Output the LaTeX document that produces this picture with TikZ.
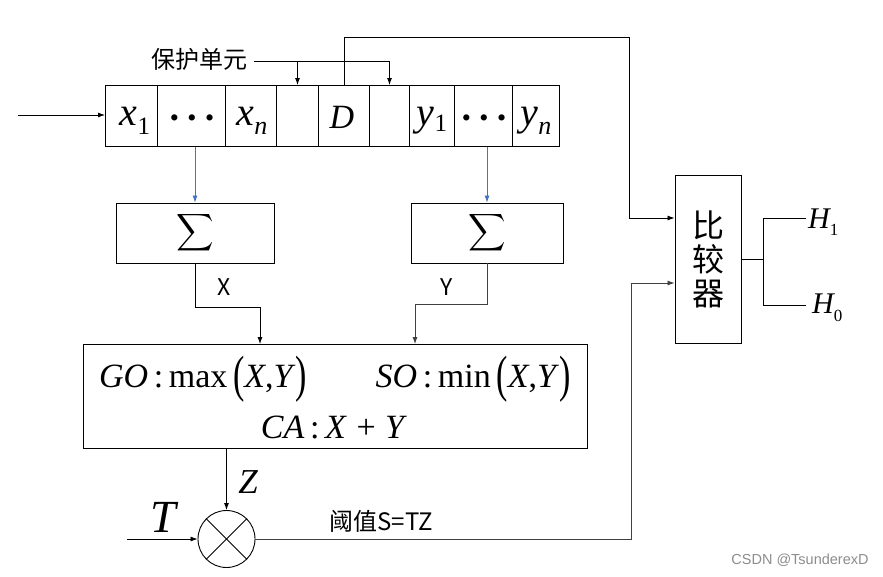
\documentclass[tikz,border=0pt]{standalone}
\usepackage{fontspec}
\usepackage{graphicx}
\usetikzlibrary{arrows.meta,calc}
\newfontfamily\tnr{Liberation Serif}
\newfontfamily\cjk{Noto Sans CJK SC}
\newfontfamily\wm{Liberation Sans}
\definecolor{lineblue}{HTML}{4472C4}
\newcommand{\fs}[1]{\fontsize{#1}{#1}\selectfont}
\newcommand{\bigpar}[1]{\raisebox{-4pt}{\scalebox{1}[1.5]{#1}}}
\newcommand{\sumsym}{\scalebox{2.6}{$\displaystyle\sum$}}
\newcommand{\dotrow}{{\tnr\fs{26}•\hspace{8.5pt}•\hspace{8.5pt}•}}
\tikzset{
  cell/.style={draw, line width=1pt, minimum height=61pt, inner sep=0pt, anchor=north west},
  blk/.style={draw, line width=0.9pt, inner sep=0pt},
  wire/.style={line width=0.8pt},
  arr/.style={wire, -{Latex[length=7pt,width=5pt]}},
  lbl/.style={inner sep=0pt, anchor=base},
}
\begin{document}
\begin{tikzpicture}[x=1pt,y=-1pt]
\useasboundingbox (0,0) rectangle (883,576);

% register cells
\foreach \n/\l/\r in {1/105/157, 2/157/225, 3/225/276, 4/276/318, 5/318/369,
                      6/369/409, 7/409/454, 8/454/512, 9/512/559}
  \node[cell, minimum width={(\r-\l)*1pt}] (c\n) at (\l,85) {};

% cell contents
\node[lbl] (tx1) at (135,125) {\tnr\itshape\fs{40}x\raisebox{-9pt}{\upshape\fs{25}1}};
\node[lbl] (td1) at (192,126) {\dotrow};
\node[lbl] (txn) at (252,125) {\tnr\itshape\fs{40}x\raisebox{-9pt}{\fs{26}n}};
\node[lbl] (tD)  at (342,128) {\tnr\itshape\fs{34}D};
\node[lbl] (ty1) at (432,125) {\tnr\itshape\fs{40}y\raisebox{-6pt}{\upshape\fs{25}1}};
\node[lbl] (td2) at (484,126) {\dotrow};
\node[lbl] (tyn) at (536,125) {\tnr\itshape\fs{40}y\raisebox{-9pt}{\fs{26}n}};

% input to the register
\coordinate (inL) at (18,115);
\draw[arr] (inL) -- (inL -| c1.west);

% guard cells
\node[inner sep=0pt, anchor=east, font=\cjk\fs{24}] (guard) at (248,59) {保护单元};
\coordinate (gA) at (c4.north |- 0,61);
\coordinate (gB) at (c6.north |- 0,61);
\coordinate (gS) at (254,61);
\draw[wire] (gS) -- (gB);
\draw[arr] (gA) -- (c4.north);
\draw[arr] (gB) -- (c6.north);

% summation blocks
\node[blk, minimum width=158pt, minimum height=60pt] (sumL) at (195,233) {\sumsym};
\node[blk, minimum width=152pt, minimum height=60pt] (sumR) at (487,233) {\sumsym};
\draw[arr, lineblue] (sumL.north |- c2.south) -- (sumL.north);
\draw[arr, lineblue] (sumR.north |- c8.south) -- (sumR.north);

% selection block
\node[blk, minimum width=504pt, minimum height=104pt] (big) at (335,396) {};
\node[lbl] (go) at (203,387) {\tnr\fs{34}\textit{GO}\,:\,max\,\bigpar{(}\textit{X},\textit{Y}\bigpar{)}};
\node[lbl] (so) at (473,387) {\tnr\fs{34}\textit{SO}\,:\,min\,\bigpar{(}\textit{X},\textit{Y}\bigpar{)}};
\node[lbl] (ca) at (334,438) {\tnr\fs{34}\textit{CA}\,:\,\textit{X}\;+\;\textit{Y}};

\coordinate (xin) at (260,344);
\coordinate (yin) at (415,344);
\draw[arr] (sumL.south) -- ++(0,44) -| (xin);
\draw[arr, black!75] (sumR.south) -- ++(0,41) -| (yin);
\node[inner sep=0pt, font=\cjk\fs{23}] (lx) at (224,287) {X};
\node[inner sep=0pt, font=\cjk\fs{23}] (ly) at (447,287) {Y};

% multiplier
\node[draw, circle, line width=0.9pt, minimum size=57pt, inner sep=0pt] (mul) at (226.5,539) {};
\draw[wire] (mul.north west) -- (mul.south east);
\draw[wire] (mul.north east) -- (mul.south west);
\draw[arr] (mul.north |- big.south) -- (mul.north);
\coordinate (tin) at (127,539);
\draw[arr] (tin) -- (mul.west);
\node[lbl] (lt) at (163,532) {\tnr\itshape\fs{46}T};
\node[lbl] (lz) at (248,493) {\tnr\itshape\fs{35}Z};
\node[inner sep=0pt, font=\cjk\fs{24}] (ls) at (381,521) {阈值S=TZ};

% comparator
\node[blk, minimum width=66pt, minimum height=168pt, align=center,
      font=\cjk\fontsize{32}{34}\selectfont] (cmp) at (708,259)
      {比\\较\\器};
\coordinate (dup) at (c5.north |- 0,37);
\draw[arr] (c5.north) -- (dup) -| (629,218) -- (cmp.west |- 0,218);
\draw[arr, black!75] (mul.east) -| (631,283) -- (cmp.west |- 0,283);

% decision outputs
\coordinate (br) at (763,259);
\coordinate (h1e) at (806,218);
\coordinate (h0e) at (806,305);
\draw[wire] (cmp.east |- br) -- (br);
\draw[wire] (h1e) -| (br) |- (h0e);
\node[lbl, anchor=base west] (h1) at (808,228) {\tnr\itshape\fs{30}H\raisebox{-7pt}{\upshape\fs{17}1}};
\node[lbl, anchor=base west] (h0) at (812,313) {\tnr\itshape\fs{30}H\raisebox{-8pt}{\upshape\fs{17}0}};

% watermark
\node[inner sep=0pt, font=\wm\fs{14.5}, text=black!45] (mark) at (800,560) {CSDN @TsunderexD};
\end{tikzpicture}
\end{document}
